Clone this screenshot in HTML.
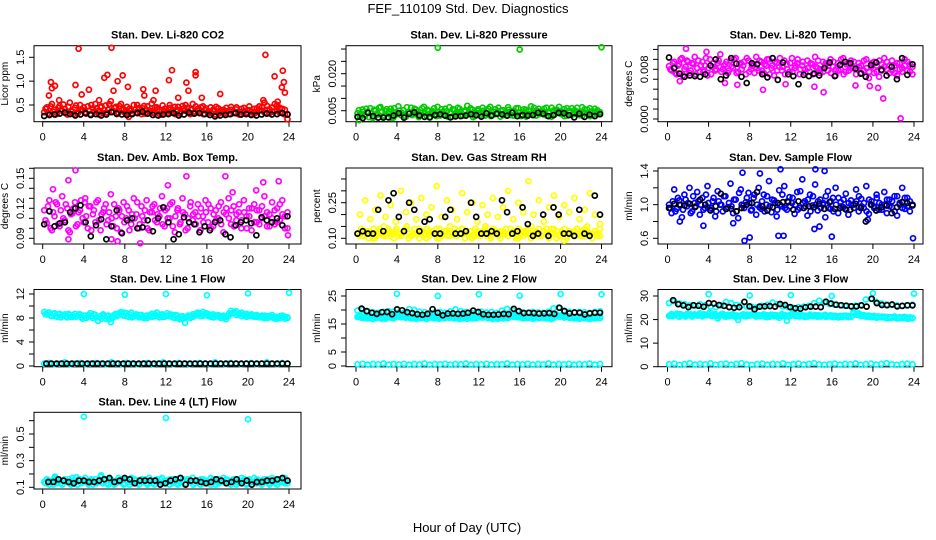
<!DOCTYPE html>
<html>
<head>
<meta charset="utf-8">
<style>
  html,body{margin:0;padding:0;background:#fff;}
  svg{display:block;}
  text{font-family:"Liberation Sans",Arial,sans-serif;fill:#000;}
</style>
</head>
<body>
<svg id="chart" width="936" height="540" viewBox="0 0 936 540" xmlns="http://www.w3.org/2000/svg">
  <text x="468" y="13" font-size="13" text-anchor="middle">FEF_110109  Std. Dev. Diagnostics</text>
  <text x="467" y="532" font-size="13" text-anchor="middle">Hour of Day (UTC)</text>
</svg>
<script>
// ---------- x tick labels ----------
const xTickVals = [0,4,8,12,16,20,24];
const xTickText = ['0','4','8','12','16','20','24'];

// ---------- Panel 1: CO2 ----------
const co2Red = [0.35,0.45,0.30,0.52,0.40,0.33,0.48,0.38,0.42,0.30,0.55,0.36,
0.44,0.32,0.50,0.39,0.35,0.47,0.31,0.43,0.52,0.37,0.45,0.33,
0.49,0.40,0.58,0.36,0.46,0.34,0.52,0.41,0.30,0.25,0.38,0.50,
0.35,0.44,0.31,0.48,0.40,0.36,0.53,0.33,0.45,0.39,0.30,0.42,
0.37,0.50,0.34,0.46,0.40,0.32,0.48,0.38,0.44,0.31,0.52,0.36,
0.42,0.34,0.47,0.39,0.33,0.45,0.37,0.30,0.43,0.35,0.40,0.32,
0.38,0.46,0.33,0.41,0.36,0.30,0.44,0.34,0.39,0.31,0.42,0.35,
0.47,0.38,0.55,0.40,0.33,0.45,0.37,0.50,0.34,0.42,0.30,0.20];
const co2Red2 = [0.42,0.33,0.47,0.36,0.30,0.44,0.39,0.51,0.34,0.46,0.38,0.31,
0.49,0.35,0.41,0.45,0.32,0.38,0.50,0.36,0.43,0.30,0.47,0.40,
0.34,0.52,0.37,0.44,0.31,0.48,0.39,0.35,0.46,0.42,0.33,0.40,
0.50,0.36,0.43,0.32,0.47,0.38,0.34,0.45,0.41,0.30,0.49,0.37,
0.33,0.44,0.39,0.31,0.46,0.35,0.42,0.50,0.36,0.40,0.33,0.47,
0.38,0.45,0.31,0.43,0.37,0.34,0.41,0.46,0.32,0.39,0.36,0.44,
0.31,0.40,0.35,0.45,0.30,0.42,0.37,0.33,0.47,0.36,0.32,0.43,
0.39,0.45,0.34,0.48,0.41,0.36,0.52,0.38,0.44,0.33,0.40,0.31];
const co2OutHours = [3.5,6.7,21.7,0.8,1.2,3.2,4.5,6.0,6.3,7.3,7.8,8.3,9.8,11.0,12.3,12.6,14.0,14.2,14.9,14.9,17.3,22.6,23.4,23.5,23.3,23.6,0.6,3.8,1.6,5.5,10.8,13.2,15.5,21.5,22.9,0.9,6.9,9.9];
const co2OutVals  = [1.68,1.70,1.55,0.98,0.90,0.92,0.82,1.07,1.13,1.00,1.12,0.88,0.83,0.80,1.02,1.23,0.97,0.80,1.19,1.12,0.73,1.10,1.22,0.98,0.87,0.76,0.70,0.72,0.60,0.60,0.60,0.65,0.65,0.60,0.57,0.85,0.80,0.70];
const co2Black = [0.27,0.29,0.30,0.32,0.34,0.31,0.28,0.30,0.33,0.29,0.31,0.28,0.30,0.35,0.32,0.30,0.29,0.31,0.33,0.36,0.32,0.29,0.28,0.30,0.31,0.33,0.28,0.30,0.34,0.32,0.33,0.31,0.29,0.26,0.28,0.29,0.31,0.33,0.30,0.31,0.29,0.28,0.30,0.32,0.30,0.31,0.33,0.30];

// ---------- Panel 2: Pressure ----------
const presGreen = [0.0040,0.0025,0.0055,0.0030,0.0045,0.0060,0.0020,0.0050,0.0035,0.0065,0.0028,0.0048,
0.0038,0.0058,0.0022,0.0044,0.0068,0.0032,0.0052,0.0026,0.0046,0.0062,0.0036,0.0054,
0.0024,0.0042,0.0066,0.0030,0.0050,0.0038,0.0060,0.0028,0.0044,0.0056,0.0034,0.0048,
0.0064,0.0026,0.0052,0.0040,0.0058,0.0032,0.0046,0.0070,0.0036,0.0054,0.0028,0.0050,
0.0042,0.0062,0.0030,0.0048,0.0066,0.0034,0.0056,0.0040,0.0026,0.0052,0.0044,0.0064,
0.0032,0.0050,0.0038,0.0060,0.0028,0.0046,0.0054,0.0036,0.0068,0.0042,0.0030,0.0058,
0.0048,0.0034,0.0062,0.0040,0.0026,0.0052,0.0044,0.0066,0.0036,0.0056,0.0030,0.0050,
0.0060,0.0038,0.0046,0.0032,0.0064,0.0042,0.0054,0.0028,0.0048,0.0058,0.0036,0.0044];
const presGreen2 = [0.0052,0.0034,0.0046,0.0058,0.0024,0.0040,0.0054,0.0032,0.0062,0.0044,0.0030,0.0056,
0.0048,0.0020,0.0060,0.0036,0.0050,0.0042,0.0028,0.0064,0.0038,0.0032,0.0058,0.0046,
0.0034,0.0060,0.0040,0.0054,0.0022,0.0048,0.0036,0.0066,0.0030,0.0044,0.0058,0.0026,
0.0040,0.0056,0.0034,0.0062,0.0046,0.0030,0.0052,0.0038,0.0060,0.0024,0.0044,0.0056,
0.0034,0.0050,0.0040,0.0058,0.0028,0.0046,0.0036,0.0062,0.0050,0.0032,0.0040,0.0054,
0.0046,0.0030,0.0060,0.0042,0.0034,0.0056,0.0026,0.0048,0.0038,0.0062,0.0052,0.0036,
0.0040,0.0058,0.0030,0.0048,0.0062,0.0034,0.0054,0.0040,0.0046,0.0028,0.0060,0.0042,
0.0034,0.0052,0.0062,0.0040,0.0030,0.0056,0.0038,0.0060,0.0032,0.0046,0.0052,0.0040];
const presOutHours = [8,16,24,0.3];
const presOutVals = [0.0305,0.0298,0.0307,0.0012];
const presBlack = [0.0025,0.0020,0.0042,0.0028,0.0022,0.0022,0.0023,0.0030,0.0040,0.0022,0.0038,0.0043,0.0030,0.0025,0.0024,0.0032,0.0036,0.0030,0.0023,0.0027,0.0028,0.0030,0.0036,0.0032,0.0026,0.0040,0.0030,0.0038,0.0035,0.0030,0.0042,0.0028,0.0032,0.0030,0.0032,0.0042,0.0038,0.0028,0.0032,0.0041,0.0040,0.0032,0.0023,0.0038,0.0025,0.0034,0.0028,0.0036];

// ---------- Panel 3: Li-820 Temp ----------
const liTempMag = [0.0085,0.0078,0.0092,0.0072,0.0088,0.0098,0.0080,0.0094,0.0074,0.0090,0.0100,0.0082,
0.0076,0.0092,0.0086,0.0070,0.0096,0.0084,0.0078,0.0090,0.0104,0.0080,0.0088,0.0074,
0.0094,0.0082,0.0098,0.0076,0.0090,0.0086,0.0072,0.0094,0.0080,0.0088,0.0100,0.0078,
0.0092,0.0074,0.0086,0.0096,0.0082,0.0070,0.0090,0.0084,0.0078,0.0094,0.0088,0.0076,
0.0098,0.0082,0.0090,0.0072,0.0086,0.0080,0.0094,0.0076,0.0088,0.0100,0.0082,0.0074,
0.0092,0.0086,0.0078,0.0096,0.0084,0.0070,0.0090,0.0080,0.0098,0.0076,0.0088,0.0094,
0.0082,0.0072,0.0090,0.0086,0.0078,0.0096,0.0066,0.0084,0.0092,0.0076,0.0068,0.0088,
0.0098,0.0080,0.0074,0.0094,0.0086,0.0070,0.0090,0.0082,0.0096,0.0078,0.0088,0.0072];
const liTempMag2 = [0.0080,0.0090,0.0074,0.0086,0.0096,0.0070,0.0084,0.0092,0.0078,0.0088,0.0072,0.0094,
0.0086,0.0076,0.0098,0.0082,0.0072,0.0090,0.0080,0.0094,0.0076,0.0086,0.0092,0.0078,
0.0084,0.0096,0.0074,0.0088,0.0080,0.0092,0.0098,0.0076,0.0086,0.0074,0.0082,0.0094,
0.0078,0.0088,0.0096,0.0072,0.0086,0.0092,0.0078,0.0098,0.0084,0.0072,0.0080,0.0090,
0.0076,0.0086,0.0096,0.0080,0.0092,0.0074,0.0082,0.0090,0.0072,0.0084,0.0094,0.0080,
0.0076,0.0090,0.0086,0.0074,0.0092,0.0080,0.0078,0.0096,0.0072,0.0088,0.0078,0.0082,
0.0092,0.0080,0.0084,0.0074,0.0094,0.0082,0.0076,0.0090,0.0074,0.0086,0.0094,0.0078,
0.0084,0.0092,0.0086,0.0078,0.0074,0.0090,0.0080,0.0076,0.0086,0.0092,0.0076,0.0084];
const liTempOutHours = [1.8,3.8,22.7,21.0,15.2,9.3,20.5,18.3,6.8,14.3,1.2,5.6,11.5,19.7];
const liTempOutVals  = [0.0113,0.0108,0.0001,0.0033,0.0043,0.0047,0.0050,0.0054,0.0055,0.0052,0.0061,0.0058,0.0056,0.0053];
const liTempBlack = [0.0099,0.0082,0.0073,0.0068,0.0070,0.0069,0.0068,0.0072,0.0086,0.0096,0.0064,0.0070,0.0098,0.0089,0.0068,0.0058,0.0090,0.0088,0.0072,0.0067,0.0098,0.0063,0.0091,0.0072,0.0069,0.0056,0.0071,0.0069,0.0073,0.0070,0.0082,0.0091,0.0069,0.0087,0.0092,0.0090,0.0081,0.0073,0.0068,0.0087,0.0091,0.0079,0.0070,0.0084,0.0064,0.0098,0.0071,0.0088];

// ---------- Panel 4: Amb Box Temp ----------
const ambMag = [0.118,0.105,0.128,0.098,0.112,0.124,0.102,0.132,0.108,0.120,0.096,0.115,
0.126,0.104,0.118,0.110,0.130,0.100,0.122,0.114,0.106,0.128,0.098,0.116,
0.124,0.108,0.134,0.102,0.112,0.120,0.096,0.126,0.110,0.118,0.104,0.130,
0.114,0.100,0.122,0.108,0.128,0.098,0.116,0.124,0.106,0.112,0.132,0.102,
0.120,0.110,0.126,0.096,0.118,0.104,0.130,0.114,0.100,0.122,0.108,0.116,
0.124,0.098,0.112,0.128,0.106,0.120,0.102,0.118,0.110,0.126,0.096,0.114,
0.130,0.104,0.122,0.108,0.116,0.100,0.128,0.112,0.120,0.098,0.124,0.106,
0.118,0.110,0.132,0.102,0.114,0.126,0.104,0.120,0.108,0.128,0.112,0.100];
const ambMag2 = [0.108,0.122,0.100,0.116,0.126,0.104,0.118,0.110,0.124,0.098,0.114,0.120,
0.102,0.116,0.128,0.106,0.112,0.122,0.098,0.118,0.126,0.108,0.114,0.120,
0.104,0.116,0.110,0.124,0.100,0.118,0.112,0.106,0.122,0.098,0.114,0.110,
0.126,0.104,0.112,0.118,0.100,0.116,0.122,0.108,0.114,0.120,0.104,0.118,
0.110,0.124,0.102,0.112,0.120,0.106,0.116,0.098,0.110,0.126,0.114,0.104,
0.112,0.120,0.106,0.116,0.124,0.100,0.114,0.108,0.122,0.104,0.116,0.120,
0.110,0.118,0.102,0.114,0.124,0.108,0.116,0.100,0.112,0.120,0.106,0.118,
0.104,0.122,0.112,0.116,0.102,0.110,0.118,0.106,0.124,0.114,0.100,0.116];
const ambOutHours = [3.2,2.5,1.0,14.0,17.8,21.5,23.0,12.2,6.7,7.3,2.5,4.1,18.5,20.8,23.9,9.5];
const ambOutVals  = [0.158,0.148,0.139,0.152,0.152,0.146,0.147,0.143,0.089,0.087,0.089,0.126,0.136,0.138,0.093,0.085];
const ambBlack = [0.104,0.117,0.102,0.105,0.106,0.116,0.120,0.123,0.106,0.092,0.103,0.109,0.089,0.102,0.118,0.095,0.108,0.110,0.100,0.101,0.108,0.097,0.110,0.121,0.106,0.089,0.094,0.111,0.106,0.104,0.096,0.102,0.098,0.106,0.108,0.094,0.091,0.103,0.106,0.108,0.105,0.093,0.111,0.108,0.106,0.110,0.103,0.112];

// ---------- Panel 5: Gas Stream RH ----------
const rhYellow = [0.12,0.20,0.11,0.26,0.13,0.18,0.10,0.22,0.12,0.28,0.11,0.19,
0.14,0.24,0.12,0.17,0.11,0.30,0.13,0.21,0.10,0.25,0.12,0.18,
0.14,0.27,0.11,0.20,0.13,0.23,0.12,0.32,0.10,0.19,0.13,0.26,
0.11,0.22,0.14,0.18,0.12,0.29,0.10,0.21,0.13,0.25,0.11,0.17,
0.12,0.24,0.14,0.20,0.11,0.27,0.13,0.19,0.10,0.23,0.12,0.30,
0.14,0.18,0.11,0.25,0.13,0.21,0.12,0.34,0.10,0.20,0.13,0.26,
0.11,0.17,0.14,0.23,0.12,0.28,0.10,0.19,0.13,0.24,0.11,0.21,
0.12,0.27,0.14,0.18,0.11,0.22,0.13,0.29,0.12,0.20,0.11,0.16];
const rhYellowLow = [0.11,0.13,0.12,0.10,0.14,0.12,0.11,0.13,0.12,0.14,0.11,0.12,0.13,0.10,0.12,0.14,0.11,0.13,0.12,0.11,0.14,0.12,0.10,0.13,0.12,0.11,0.14,0.12,0.13,0.11,0.12,0.10,0.13,0.14,0.12,0.11,0.13,0.12,0.14,0.11,0.09,0.12,0.13,0.11,0.14,0.12,0.13,0.11];
const rhYellowLow2 = [0.12,0.14,0.11,0.13,0.10,0.12,0.14,0.11,0.13,0.12,0.15,0.11,
0.13,0.12,0.10,0.14,0.12,0.11,0.13,0.15,0.12,0.11,0.14,0.12,
0.10,0.13,0.12,0.14,0.11,0.13,0.12,0.10,0.14,0.12,0.13,0.11,
0.15,0.12,0.11,0.13,0.12,0.14,0.10,0.12,0.13,0.11,0.14,0.12,
0.11,0.13,0.15,0.12,0.10,0.14,0.12,0.11,0.13,0.12,0.14,0.11,
0.12,0.13,0.10,0.14,0.12,0.11,0.13,0.12,0.15,0.11,0.12,0.14,
0.11,0.13,0.12,0.10,0.14,0.12,0.13,0.11,0.12,0.14,0.10,0.13,
0.12,0.11,0.14,0.12,0.13,0.11,0.15,0.12,0.10,0.13,0.12,0.14];
const rhBlack = [0.12,0.13,0.12,0.12,0.22,0.13,0.26,0.29,0.19,0.13,0.25,0.22,0.13,0.17,0.18,0.12,0.12,0.19,0.22,0.12,0.12,0.13,0.25,0.19,0.12,0.12,0.13,0.12,0.26,0.21,0.12,0.13,0.23,0.16,0.11,0.12,0.20,0.11,0.23,0.20,0.12,0.12,0.11,0.22,0.12,0.11,0.28,0.20];

// ---------- Panel 6: Sample Flow ----------
const flowBlue = [1.00,0.90,1.18,0.95,1.05,0.85,1.12,0.98,1.20,0.92,1.02,1.15,
0.88,1.08,0.96,1.22,0.94,1.04,0.86,1.16,1.00,0.92,1.10,0.97,
1.25,0.90,1.06,0.84,1.18,0.99,1.03,1.14,0.93,1.08,0.88,1.20,
0.95,1.12,1.00,1.28,0.91,1.05,0.86,1.17,0.98,1.22,0.94,1.09,
1.02,0.89,1.15,0.96,1.30,1.04,0.87,1.12,0.99,1.24,0.93,1.06,
1.00,0.85,1.16,0.95,1.08,1.20,0.90,1.03,0.97,1.13,0.88,1.05,
1.00,1.18,0.92,1.07,0.96,1.22,0.89,1.04,0.98,1.12,0.94,1.00,
1.15,0.90,1.06,0.97,1.10,0.87,1.02,1.20,0.95,1.08,0.92,1.00];
const flowBlue2 = [0.96,1.04,0.92,1.08,1.00,0.94,1.06,1.02,0.90,1.10,0.98,1.04,
1.00,0.94,1.12,1.02,0.96,1.08,0.92,1.04,1.00,1.10,0.95,1.02,
0.98,1.06,0.92,1.14,1.00,0.96,1.08,1.02,0.94,1.12,1.00,0.97,
1.04,0.92,1.10,0.98,1.06,1.02,0.94,1.00,1.12,0.96,1.04,0.98,
1.08,1.00,0.94,1.16,1.02,0.98,1.06,0.92,1.10,1.00,1.04,0.96,
1.02,1.10,0.96,1.04,0.92,1.00,1.08,0.98,1.06,0.94,1.02,1.00,
0.96,1.04,1.10,0.98,1.02,0.92,1.06,1.00,0.96,1.08,1.02,0.94,
1.00,1.06,0.98,1.04,0.92,1.10,1.00,0.96,1.08,0.98,1.04,1.00];
const flowOutHours = [7.5,8.0,10.8,11.3,16.0,19.5,23.9,14.3,14.8,11.0,14.4,15.3,7.3,3.5,6.4,1.2,9.0];
const flowOutVals  = [0.57,0.61,0.63,0.63,0.62,0.82,0.60,0.71,0.74,1.42,1.42,1.40,1.38,0.75,0.78,0.80,1.37];
const flowBlack = [0.96,1.01,1.00,0.99,1.01,0.97,1.06,1.00,0.93,0.98,1.13,0.95,0.95,0.92,0.96,1.00,1.02,1.15,0.98,0.93,0.97,1.02,1.03,1.03,0.94,1.04,0.96,0.98,0.97,1.01,0.95,1.03,0.95,0.96,0.95,0.94,1.01,0.96,0.80,1.00,0.93,0.97,0.99,0.90,0.97,1.03,1.02,0.99];

// ---------- Panel 7: Line 1 Flow ----------
const line1Cyan = [9.0,8.6,8.9,8.3,8.8,8.2,8.7,8.4,8.6,8.1,8.5,8.2,
8.7,8.3,8.6,7.9,8.4,8.2,8.8,8.0,8.5,7.5,8.3,8.6,
7.9,8.4,7.3,8.1,8.7,8.5,9.0,8.4,8.8,8.2,8.9,8.3,
8.6,8.1,8.5,8.0,8.4,8.2,8.7,8.3,8.9,8.1,8.6,8.2,
8.8,8.3,8.5,8.0,8.4,7.8,8.3,7.2,8.2,8.0,8.6,8.4,
8.9,8.3,9.0,8.5,8.7,8.2,8.6,8.3,8.5,8.0,8.4,7.8,
8.3,9.2,8.8,9.1,8.6,8.9,8.4,8.7,8.3,8.6,8.2,8.5,
8.1,8.4,8.0,8.3,8.1,8.5,7.9,8.2,8.0,8.4,7.9,8.1];
const line1Cyan2 = [8.6,8.9,8.4,8.7,8.3,8.6,8.1,8.5,8.3,8.7,8.2,8.4,
8.2,8.6,8.1,8.4,8.0,8.5,8.3,8.6,8.1,8.2,7.9,8.4,
8.3,7.8,8.2,8.5,8.3,8.8,8.6,8.9,8.3,8.6,8.1,8.5,
8.3,8.5,8.1,8.3,8.0,8.5,8.2,8.6,8.4,8.5,8.2,8.4,
8.4,8.6,8.1,8.5,8.0,8.2,7.9,8.1,8.4,8.3,8.2,8.7,
8.6,8.7,8.4,8.8,8.3,8.5,8.1,8.4,8.2,8.3,8.1,8.2,
8.7,8.8,9.0,8.5,8.7,8.3,8.6,8.2,8.5,8.3,8.4,8.2,
8.3,8.1,8.4,8.0,8.3,8.1,8.2,7.9,8.3,8.1,8.2,8.0];
const line1Base = [0.4,0.5,0.3,0.4,0.6,0.3,0.4,0.5,0.3,0.4,0.5,0.4,0.3,0.6,0.4,0.3,0.5,0.4,0.3,0.4,0.5,0.3,0.4,0.6,0.4,0.3,0.5,0.4,0.3,0.4,0.5,0.4,0.3,0.6,0.4,0.3,0.5,0.4,0.3,0.4,0.5,0.3,0.4,0.6,0.4,0.3,0.5,0.4];
const line1OutHours = [4,8,12,16,20,24];
const line1OutVals = [12.0,11.9,12.0,11.8,12.1,12.2];
const line1Black = [0.4,0.4,0.4,0.4,0.4,0.4,0.4,0.4,0.4,0.4,0.4,0.4,0.4,0.4,0.4,0.4,0.4,0.4,0.4,0.4,0.4,0.4,0.4,0.4,0.4,0.4,0.4,0.4,0.4,0.4,0.4,0.4,0.4,0.4,0.4,0.4,0.4,0.4,0.4,0.4,0.4,0.4,0.4,0.4,0.4,0.4,0.4,0.4];

// ---------- Panel 8: Line 2 Flow ----------
const line2CyanLow = [17.5,18.0,17.2,17.8,17.0,17.6,16.8,17.4,17.9,17.1,17.7,16.9,
17.3,17.8,17.0,17.6,18.2,17.4,18.0,17.2,17.8,17.0,17.5,16.9,
17.4,17.1,17.7,16.8,17.3,17.9,17.0,17.5,16.9,17.4,17.1,17.7,
17.2,17.8,17.0,17.5,16.8,17.3,17.6,16.9,17.4,17.0,17.5,17.2,
17.8,17.3,17.9,17.1,17.6,16.8,17.3,16.9,17.4,17.0,17.5,17.1,
18.2,17.6,18.0,17.4,17.8,17.0,17.5,17.2,17.7,16.9,17.4,17.1,
17.3,17.8,17.0,17.5,16.8,17.3,18.4,17.8,18.1,17.5,17.9,17.2,
17.6,17.0,17.4,16.9,17.3,17.1,17.5,16.8,17.2,17.0,17.4,17.1];
const line2CyanLow2 = [17.8,17.3,17.6,17.1,17.4,17.0,17.7,17.2,17.5,16.9,17.3,17.6,
17.7,17.2,17.5,17.9,17.6,18.1,17.5,17.7,17.3,17.6,17.1,17.4,
17.0,17.5,17.2,17.4,17.7,17.2,17.6,17.1,17.3,17.7,17.2,17.4,
17.6,17.3,17.4,17.1,17.5,17.0,17.4,17.2,17.6,17.3,17.0,17.5,
17.4,17.7,17.5,17.8,17.2,17.4,17.1,17.5,17.2,17.6,17.3,17.5,
17.8,18.1,17.5,17.7,17.3,17.6,17.2,17.5,17.1,17.3,17.6,17.4,
17.6,17.2,17.4,17.1,17.5,17.7,18.0,17.6,17.8,17.3,17.6,17.4,
17.3,17.5,17.1,17.4,17.2,17.3,17.0,17.4,17.1,17.3,17.2,17.5];
const line2CyanHigh = [19.8,20.1,19.5,19.2,19.0,19.3,19.6,19.4,19.1,19.0,20.3,20.0,19.4,19.2,19.0,19.1,19.3,19.0,19.5,20.2,19.6,19.3,19.0,19.2,19.4,19.1,19.3,19.0,19.8,20.4,19.9,19.5,19.2,19.0,19.3,19.1,19.0,19.4,20.6,20.9,19.8,19.4,19.1,19.3,19.2,19.0,19.3,19.5];
const line2Base = [0.6,0.8,0.5,0.7,0.6,0.9,0.5,0.7,0.6,0.8,0.5,0.7,0.6,0.9,0.5,0.7,0.6,0.8,0.5,0.7,0.6,0.9,0.5,0.7,0.6,0.8,0.5,0.7,0.6,0.9,0.5,0.7,0.6,0.8,0.5,0.7,0.6,0.9,0.5,0.7,0.6,0.8,0.5,0.7,0.6,0.9,0.5,0.7];
const line2OutHours = [4,8,12,16,20,24];
const line2OutVals = [25.8,25.0,25.6,25.1,25.7,25.6];
const line2Black = [20.5,19.6,19.0,18.6,19.2,19.3,18.5,20.2,19.9,19.2,18.9,18.5,18.3,18.6,20.3,19.0,18.1,18.7,18.8,18.6,18.7,19.0,19.8,19.3,18.5,18.3,18.3,18.4,18.6,18.5,20.4,19.6,18.9,19.0,18.9,18.7,18.8,18.9,18.6,20.8,19.6,18.8,19.1,19.0,18.4,18.8,19.0,19.0];

// ---------- Panel 9: Line 3 Flow ----------
const line3CyanLow = [21.5,22.3,21.8,22.5,21.2,22.0,21.6,22.4,21.9,21.3,22.2,21.7,
22.6,21.4,22.1,21.8,23.0,21.5,22.3,20.5,21.9,22.4,21.2,22.0,
21.6,22.3,21.1,19.8,21.7,22.2,21.4,22.0,21.8,22.5,21.3,21.9,
21.5,22.2,21.0,21.7,22.1,21.4,21.8,20.8,22.3,21.5,19.5,21.9,
22.4,21.6,22.0,21.3,21.8,21.1,21.6,22.1,21.4,21.9,21.2,21.7,
21.5,22.0,21.3,21.8,21.1,21.6,20.9,21.5,21.2,21.7,21.0,21.4,
23.2,22.1,22.6,21.5,21.9,21.2,21.7,21.0,21.5,20.8,21.3,21.0,
21.2,20.6,21.0,20.8,21.3,20.5,21.0,20.7,21.1,20.4,20.9,20.6];
const line3CyanLow2 = [21.9,21.4,22.1,21.6,22.3,21.8,21.3,21.9,22.2,21.6,21.8,22.0,
21.7,22.2,21.9,22.4,21.6,22.1,21.7,21.4,22.2,21.6,21.9,21.4,
22.0,21.5,21.8,21.3,21.9,21.5,22.1,21.6,22.2,21.7,21.9,21.4,
21.8,21.4,21.9,21.2,21.6,21.9,21.3,21.7,21.5,21.9,21.3,21.5,
21.8,22.1,21.5,21.9,21.4,21.7,21.3,21.8,21.6,21.4,21.8,21.3,
21.7,21.2,21.6,21.3,21.5,21.2,21.4,21.1,21.6,21.3,21.5,21.2,
22.6,22.3,21.9,21.7,21.4,21.6,21.2,21.4,21.1,21.3,21.0,21.2,
20.9,21.1,20.7,21.0,20.9,20.8,20.6,20.9,20.7,20.8,20.5,20.7];
const line3CyanHigh = [27.0,27.8,26.8,26.5,26.0,25.8,26.5,26.0,25.5,25.3,26.0,27.5,
27.0,26.2,26.0,25.6,25.4,25.3,25.8,26.3,27.2,26.5,25.6,25.2,
25.0,25.3,25.5,25.8,27.0,28.0,27.2,26.6,26.3,26.0,25.8,25.7,
25.9,26.2,28.5,28.8,27.5,26.8,26.4,26.2,26.0,25.8,25.9,26.3];
const line3Base = [1.0,1.3,0.8,1.1,1.5,0.9,1.2,1.0,1.4,0.8,1.1,1.3,0.9,1.2,1.5,1.0,0.8,1.1,1.3,0.9,1.2,1.0,1.4,0.8,1.1,1.3,0.9,1.2,1.5,1.0,0.8,1.1,1.3,0.9,1.2,1.0,1.4,0.8,1.1,1.3,0.9,1.2,1.5,1.0,0.8,1.1,1.3,1.0];
const line3OutHours = [4,8,12,16,20,24];
const line3OutVals = [30.8,30.2,30.4,30.0,31.2,31.0];
const line3Black = [28.2,26.5,26.0,25.3,26.1,25.9,25.4,27.0,26.8,26.2,25.8,25.3,25.0,25.3,27.5,25.6,24.4,25.5,25.6,25.7,25.5,26.6,26.2,25.3,24.8,24.6,25.2,25.5,25.5,25.3,27.6,26.8,26.3,26.1,25.9,25.6,25.6,26.0,25.5,28.8,27.0,26.2,26.1,26.4,25.6,25.8,26.1,26.0];

// ---------- Panel 10: Line 4 (LT) Flow ----------
const line4Cyan = [0.14,0.16,0.12,0.15,0.17,0.13,0.15,0.12,0.16,0.14,0.13,0.17,
0.15,0.12,0.16,0.14,0.17,0.13,0.15,0.12,0.16,0.14,0.18,0.13,
0.15,0.12,0.16,0.14,0.13,0.17,0.15,0.12,0.16,0.14,0.17,0.13,
0.15,0.12,0.16,0.14,0.13,0.17,0.15,0.12,0.16,0.14,0.17,0.13,
0.15,0.12,0.16,0.14,0.13,0.17,0.15,0.12,0.16,0.14,0.17,0.13,
0.15,0.12,0.16,0.14,0.13,0.17,0.15,0.12,0.16,0.14,0.17,0.13,
0.15,0.12,0.16,0.14,0.13,0.17,0.15,0.12,0.16,0.14,0.17,0.13,
0.15,0.12,0.16,0.14,0.13,0.17,0.15,0.12,0.16,0.14,0.17,0.13];
const line4Cyan2 = [0.13,0.15,0.14,0.12,0.16,0.14,0.13,0.15,0.14,0.16,0.12,0.15,
0.14,0.16,0.13,0.15,0.14,0.12,0.16,0.14,0.13,0.15,0.14,0.16,
0.13,0.15,0.14,0.12,0.15,0.14,0.16,0.13,0.15,0.12,0.14,0.16,
0.13,0.15,0.14,0.16,0.12,0.14,0.13,0.15,0.14,0.16,0.13,0.15,
0.14,0.16,0.13,0.15,0.12,0.14,0.16,0.13,0.15,0.14,0.12,0.15,
0.14,0.16,0.13,0.15,0.14,0.12,0.16,0.14,0.13,0.15,0.14,0.16,
0.13,0.15,0.14,0.12,0.15,0.14,0.16,0.13,0.15,0.12,0.14,0.16,
0.13,0.15,0.14,0.16,0.12,0.14,0.13,0.15,0.14,0.16,0.13,0.15];
const line4OutHours = [4,12,20,5.7,1.2,3.3];
const line4OutVals = [0.63,0.62,0.61,0.19,0.18,0.175];
const line4Black = [0.14,0.14,0.16,0.15,0.14,0.13,0.15,0.15,0.14,0.14,0.15,0.16,0.17,0.14,0.15,0.17,0.16,0.13,0.15,0.15,0.15,0.15,0.12,0.13,0.15,0.16,0.17,0.12,0.15,0.15,0.14,0.13,0.14,0.16,0.15,0.13,0.14,0.16,0.13,0.15,0.12,0.14,0.14,0.15,0.15,0.16,0.17,0.15];

// ---------- layout (not data) ----------
const NS = 'http://www.w3.org/2000/svg';
const svg = document.getElementById('chart');
const COL = [
  {l:34, r:301, x0:42.7, x24:289},
  {l:346, r:612, x0:356, x24:601.5},
  {l:658, r:923, x0:667.5, x24:914}
];
const ROW = [{t:45.7,b:121.7},{t:168,b:244},{t:289.5,b:366.7},{t:412.3,b:489}];

function el(tag, parent){ const e=document.createElementNS(NS,tag); parent.appendChild(e); return e; }

function makePanel(key, col, row, title, ylab, v0, p0, v1, p1, tickVals, labelVals, labelText){
  const c = COL[col], r = ROW[row];
  const g = el('g', svg);
  
  
  const xs = h => c.x0 + (h/24)*(c.x24 - c.x0);
  const ys = v => p0 + (v - v0)*(p1 - p0)/(v1 - v0);
  const box = el('rect', g);
  
  
  box.setAttribute('x', c.l); box.setAttribute('y', r.t);
  box.setAttribute('width', c.r - c.l); box.setAttribute('height', r.b - r.t);
  box.setAttribute('fill', 'none'); box.setAttribute('stroke', '#000'); box.setAttribute('stroke-width', '1');
  const t = el('text', g);
  
  
  t.setAttribute('x', (c.l + c.r)/2); t.setAttribute('y', r.t - 7);
  t.setAttribute('text-anchor', 'middle'); t.setAttribute('font-size', '11'); t.setAttribute('font-weight', 'bold');
  t.textContent = title;
  const yl = el('text', g);
  
  
  const ylx = c.l - 26, yly = (r.t + r.b)/2;
  yl.setAttribute('x', ylx); yl.setAttribute('y', yly);
  yl.setAttribute('transform', 'rotate(-90 ' + ylx + ' ' + yly + ')');
  yl.setAttribute('text-anchor', 'middle'); yl.setAttribute('font-size', '10');
  yl.textContent = ylab;
  const xa = el('g', g);
  
  
  const xl = el('line', xa);
  xl.setAttribute('x1', xs(xTickVals[0])); xl.setAttribute('x2', xs(xTickVals[xTickVals.length-1]));
  xl.setAttribute('y1', r.b); xl.setAttribute('y2', r.b); xl.setAttribute('stroke', '#000');
  xTickVals.forEach((v, i) => {
    const tk = el('line', xa);
    
    
    tk.setAttribute('x1', xs(v)); tk.setAttribute('x2', xs(v));
    tk.setAttribute('y1', r.b); tk.setAttribute('y2', r.b + 5); tk.setAttribute('stroke', '#000');
    const tl = el('text', xa);
    
    
    tl.setAttribute('x', xs(v)); tl.setAttribute('y', r.b + 19);
    tl.setAttribute('text-anchor', 'middle'); tl.setAttribute('font-size', '11');
    tl.textContent = xTickText[i];
  });
  const ya = el('g', g);
  
  
  const yline = el('line', ya);
  yline.setAttribute('x1', c.l); yline.setAttribute('x2', c.l);
  yline.setAttribute('y1', ys(tickVals[0])); yline.setAttribute('y2', ys(tickVals[tickVals.length-1]));
  yline.setAttribute('stroke', '#000');
  tickVals.forEach(v => {
    const tk = el('line', ya);
    
    
    tk.setAttribute('x1', c.l - 5); tk.setAttribute('x2', c.l);
    tk.setAttribute('y1', ys(v)); tk.setAttribute('y2', ys(v)); tk.setAttribute('stroke', '#000');
  });
  labelVals.forEach((v, i) => {
    const tl = el('text', ya);
    
    
    const lx = c.l - 10, ly = ys(v);
    tl.setAttribute('x', lx); tl.setAttribute('y', ly);
    tl.setAttribute('transform', 'rotate(-90 ' + lx + ' ' + ly + ')');
    tl.setAttribute('text-anchor', 'middle'); tl.setAttribute('font-size', '11');
    tl.textContent = labelText[i];
  });
  return {g, xs, ys, c, r};
}

function spreadHours(n, off){ const o = off || 0; const out=[]; for(let i=0;i<n;i++){ out.push(0.15 + o + i*(23.85-0.15-o)/(n-1)); } return out; }

function drawPoints(p, name, hours, vals, color){
  const sg = el('g', p.g);
  
  
  vals.forEach((v, i) => {
    const cx = p.xs(hours[i]), cy = p.ys(v);
    if (cy < p.r.t - 3 || cy > p.r.b + 3) return;
    const ci = el('circle', sg);
    
    
    ci.setAttribute('cx', cx.toFixed(1)); ci.setAttribute('cy', cy.toFixed(1));
    ci.setAttribute('r', '2.5'); ci.setAttribute('fill', 'none');
    ci.setAttribute('stroke', color); ci.setAttribute('stroke-width', '1.7');
  });
}
function series(p, name, vals, color, off){ drawPoints(p, name, spreadHours(vals.length, off), vals, color); }

const RED='#ff0000', GREEN='#00cc00', MAG='#ff00ff', YEL='#ffff00', BLUE='#0000ff', CYAN='#00ffff', BLK='#000000';

let p = makePanel('co2', 0, 0, 'Stan. Dev. Li-820 CO2', 'Licor ppm', 0.5, 105, 1.5, 57.3, [0.5,1.0,1.5], [0.5,1.0,1.5], ['0.5','1.0','1.5']);
series(p, 'co2-red-series', co2Red, RED);
series(p, 'co2-red-series-2', co2Red2, RED, 0.12);
drawPoints(p, 'co2-red-outliers', co2OutHours, co2OutVals, RED);
series(p, 'co2-black-series', co2Black, BLK);

p = makePanel('pressure', 1, 0, 'Stan. Dev. Li-820 Pressure', 'kPa', 0.005, 110.7, 0.020, 73.7, [0.005,0.010,0.015,0.020,0.025,0.030], [0.005,0.020], ['0.005','0.020']);
series(p, 'pressure-green-series', presGreen, GREEN);
series(p, 'pressure-green-series-2', presGreen2, GREEN, 0.12);
drawPoints(p, 'pressure-green-outliers', presOutHours, presOutVals, GREEN);
series(p, 'pressure-black-series', presBlack, BLK);

p = makePanel('li-temp', 2, 0, 'Stan. Dev. Li-820 Temp.', 'degrees C', 0, 119, 0.008, 69.3, [0,0.0016,0.0032,0.0048,0.0064,0.008,0.0096,0.0112], [0,0.008], ['0.000','0.008']);
series(p, 'li-temp-magenta-series', liTempMag, MAG);
series(p, 'li-temp-magenta-series-2', liTempMag2, MAG, 0.12);
drawPoints(p, 'li-temp-magenta-outliers', liTempOutHours, liTempOutVals, MAG);
series(p, 'li-temp-black-series', liTempBlack, BLK);

p = makePanel('amb-box', 0, 1, 'Stan. Dev. Amb. Box Temp.', 'degrees C', 0.09, 238.3, 0.15, 178.3, [0.09,0.10,0.11,0.12,0.13,0.14,0.15,0.16], [0.09,0.12,0.15], ['0.09','0.12','0.15']);
series(p, 'amb-box-magenta-series', ambMag, MAG);
series(p, 'amb-box-magenta-series-2', ambMag2, MAG, 0.12);
drawPoints(p, 'amb-box-magenta-outliers', ambOutHours, ambOutVals, MAG);
series(p, 'amb-box-black-series', ambBlack, BLK);

p = makePanel('gas-rh', 1, 1, 'Stan. Dev. Gas Stream RH', 'percent', 0.10, 238.3, 0.25, 202.7, [0.10,0.15,0.20,0.25,0.30,0.35], [0.10,0.25], ['0.10','0.25']);
series(p, 'gas-rh-yellow-series', rhYellow, YEL);
series(p, 'gas-rh-yellow-low-series', rhYellowLow, YEL, 0.2);
series(p, 'gas-rh-yellow-low-series-2', rhYellowLow2, YEL, 0.08);
series(p, 'gas-rh-black-series', rhBlack, BLK);

p = makePanel('sample-flow', 2, 1, 'Stan. Dev. Sample Flow', 'ml/min', 0.6, 238.3, 1.4, 171, [0.6,0.8,1.0,1.2,1.4], [0.6,1.0,1.4], ['0.6','1.0','1.4']);
series(p, 'sample-flow-blue-series', flowBlue, BLUE);
series(p, 'sample-flow-blue-series-2', flowBlue2, BLUE, 0.12);
drawPoints(p, 'sample-flow-blue-outliers', flowOutHours, flowOutVals, BLUE);
series(p, 'sample-flow-black-series', flowBlack, BLK);

p = makePanel('line1', 0, 2, 'Stan. Dev. Line 1 Flow', 'ml/min', 0, 366, 12, 294, [0,2,4,6,8,10,12], [0,4,8,12], ['0','4','8','12']);
series(p, 'line1-cyan-series', line1Cyan, CYAN);
series(p, 'line1-cyan-series-2', line1Cyan2, CYAN, 0.12);
series(p, 'line1-cyan-base-series', line1Base, CYAN);
drawPoints(p, 'line1-cyan-outliers', line1OutHours, line1OutVals, CYAN);
series(p, 'line1-black-series', line1Black, BLK, 0.2);

p = makePanel('line2', 1, 2, 'Stan. Dev. Line 2 Flow', 'ml/min', 0, 366, 25, 296, [0,5,10,15,20,25], [0,5,15,25], ['0','5','15','25']);
series(p, 'line2-cyan-low-series', line2CyanLow, CYAN);
series(p, 'line2-cyan-low-series-2', line2CyanLow2, CYAN, 0.12);
series(p, 'line2-cyan-high-series', line2CyanHigh, CYAN);
series(p, 'line2-cyan-base-series', line2Base, CYAN);
drawPoints(p, 'line2-cyan-outliers', line2OutHours, line2OutVals, CYAN);
series(p, 'line2-black-series', line2Black, BLK, 0.4);

p = makePanel('line3', 2, 2, 'Stan. Dev. Line 3 Flow', 'ml/min', 0, 366.7, 30, 296, [0,10,20,30], [0,10,20,30], ['0','10','20','30']);
series(p, 'line3-cyan-low-series', line3CyanLow, CYAN);
series(p, 'line3-cyan-low-series-2', line3CyanLow2, CYAN, 0.12);
series(p, 'line3-cyan-high-series', line3CyanHigh, CYAN);
series(p, 'line3-cyan-base-series', line3Base, CYAN);
drawPoints(p, 'line3-cyan-outliers', line3OutHours, line3OutVals, CYAN);
series(p, 'line3-black-series', line3Black, BLK, 0.4);

p = makePanel('line4', 0, 3, 'Stan. Dev. Line 4 (LT) Flow', 'ml/min', 0.1, 487.3, 0.5, 434, [0.1,0.2,0.3,0.4,0.5,0.6], [0.1,0.3,0.5], ['0.1','0.3','0.5']);
series(p, 'line4-cyan-series', line4Cyan, CYAN);
series(p, 'line4-cyan-series-2', line4Cyan2, CYAN, 0.12);
drawPoints(p, 'line4-cyan-outliers', line4OutHours, line4OutVals, CYAN);
series(p, 'line4-black-series', line4Black, BLK, 0.4);
</script>
</body>
</html>
